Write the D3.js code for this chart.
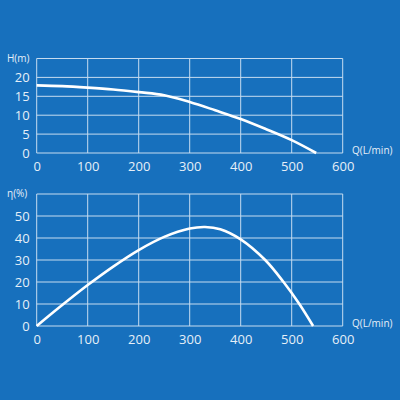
<!DOCTYPE html>
<html>
<head>
<meta charset="utf-8">
<script src="https://cdn.jsdelivr.net/npm/d3@7"></script>
<style>
  html, body { margin: 0; padding: 0; background: #1770bd; }
  svg { display: block; }
  .grid line, .grid path { stroke: #c6dcf0; stroke-width: 1; }
  .tick text { fill: #e6eff8; font-family: "Open Sans", sans-serif; font-size: 13px; }
  .title { fill: #e6eff8; font-family: "Open Sans", sans-serif; font-size: 10px; }
</style>
</head>
<body>
<div id="chart"></div>
<script>
// flow ticks shared by both panels
const flowTicks = [0, 100, 200, 300, 400, 500, 600];

// head curve H(m) vs Q(L/min)
const headQ = [0, 50, 100, 150, 200, 250, 300, 350, 400, 450, 500, 548];
const headH = [17.9, 17.7, 17.3, 16.8, 16.1, 15.3, 13.5, 11.3, 9.0, 6.3, 3.4, 0];
const headTicks = [0, 5, 10, 15, 20];

// efficiency curve eta(%) vs Q(L/min)
const effQ = [0, 50, 100, 150, 200, 250, 300, 330, 360, 400, 448, 484, 515, 542];
const effE = [0, 9.5, 18.6, 27, 34.5, 40.5, 44.3, 45, 44, 39.4, 30, 20, 10, 0];
const effTicks = [0, 10, 20, 30, 40, 50];

const width = 400, height = 400;

const svg = d3.select("#chart").append("svg")
  .attr("width", width)
  .attr("height", height);

svg.append("rect")
  .attr("width", width).attr("height", height)
  .attr("fill", "#1770bd");

function drawPanel(cfg) {
  const x = d3.scaleLinear().domain([0, 600]).range([36.7, 342.7]);
  const y = d3.scaleLinear().domain([0, cfg.yMax]).range([cfg.bottom, cfg.top]);

  const g = svg.append("g");

  // grid
  const grid = g.append("g").attr("class", "grid");
  grid.selectAll("line.v")
    .data(flowTicks)
    .join("line")
    .attr("class", "v")
    .attr("x1", d => x(d)).attr("x2", d => x(d))
    .attr("y1", y(0)).attr("y2", y(cfg.yMax));
  grid.selectAll("line.h")
    .data(cfg.yTicks.concat([cfg.yMax]))
    .join("line")
    .attr("class", "h")
    .attr("x1", x(0)).attr("x2", x(600))
    .attr("y1", d => y(d)).attr("y2", d => y(d));

  // axes (labels only)
  const xAxis = g.append("g")
    .attr("transform", `translate(0,${cfg.bottom + 5})`)
    .call(d3.axisBottom(x).tickValues(flowTicks).tickSize(0).tickPadding(4));
  xAxis.select(".domain").remove();

  const yAxis = g.append("g")
    .attr("transform", `translate(${x(0) - 7},0)`)
    .call(d3.axisLeft(y).tickValues(cfg.yTicks).tickSize(0).tickPadding(0));
  yAxis.select(".domain").remove();

  // curve
  const line = d3.line()
    .x(d => x(d[0]))
    .y(d => y(d[1]))
    .curve(d3.curveCatmullRom);

  g.append("path")
    .datum(cfg.xs.map((q, i) => [q, cfg.ys[i]]))
    .attr("d", line)
    .attr("fill", "none")
    .attr("stroke", "#ffffff")
    .attr("stroke-width", 2.6);

  g.append("text")
    .attr("class", "title")
    .attr("x", 7)
    .attr("y", cfg.top + 3)
    .text(cfg.yTitle);

  g.append("text")
    .attr("class", "title")
    .attr("x", 352)
    .attr("y", cfg.bottom + 1)
    .text("Q(L/min)");
}

drawPanel({
  top: 58.5, bottom: 153, yMax: 25,
  yTicks: headTicks, xs: headQ, ys: headH, yTitle: "H(m)"
});

drawPanel({
  top: 194, bottom: 326, yMax: 60,
  yTicks: effTicks, xs: effQ, ys: effE, yTitle: "η(%)"
});
</script>
</body>
</html>
